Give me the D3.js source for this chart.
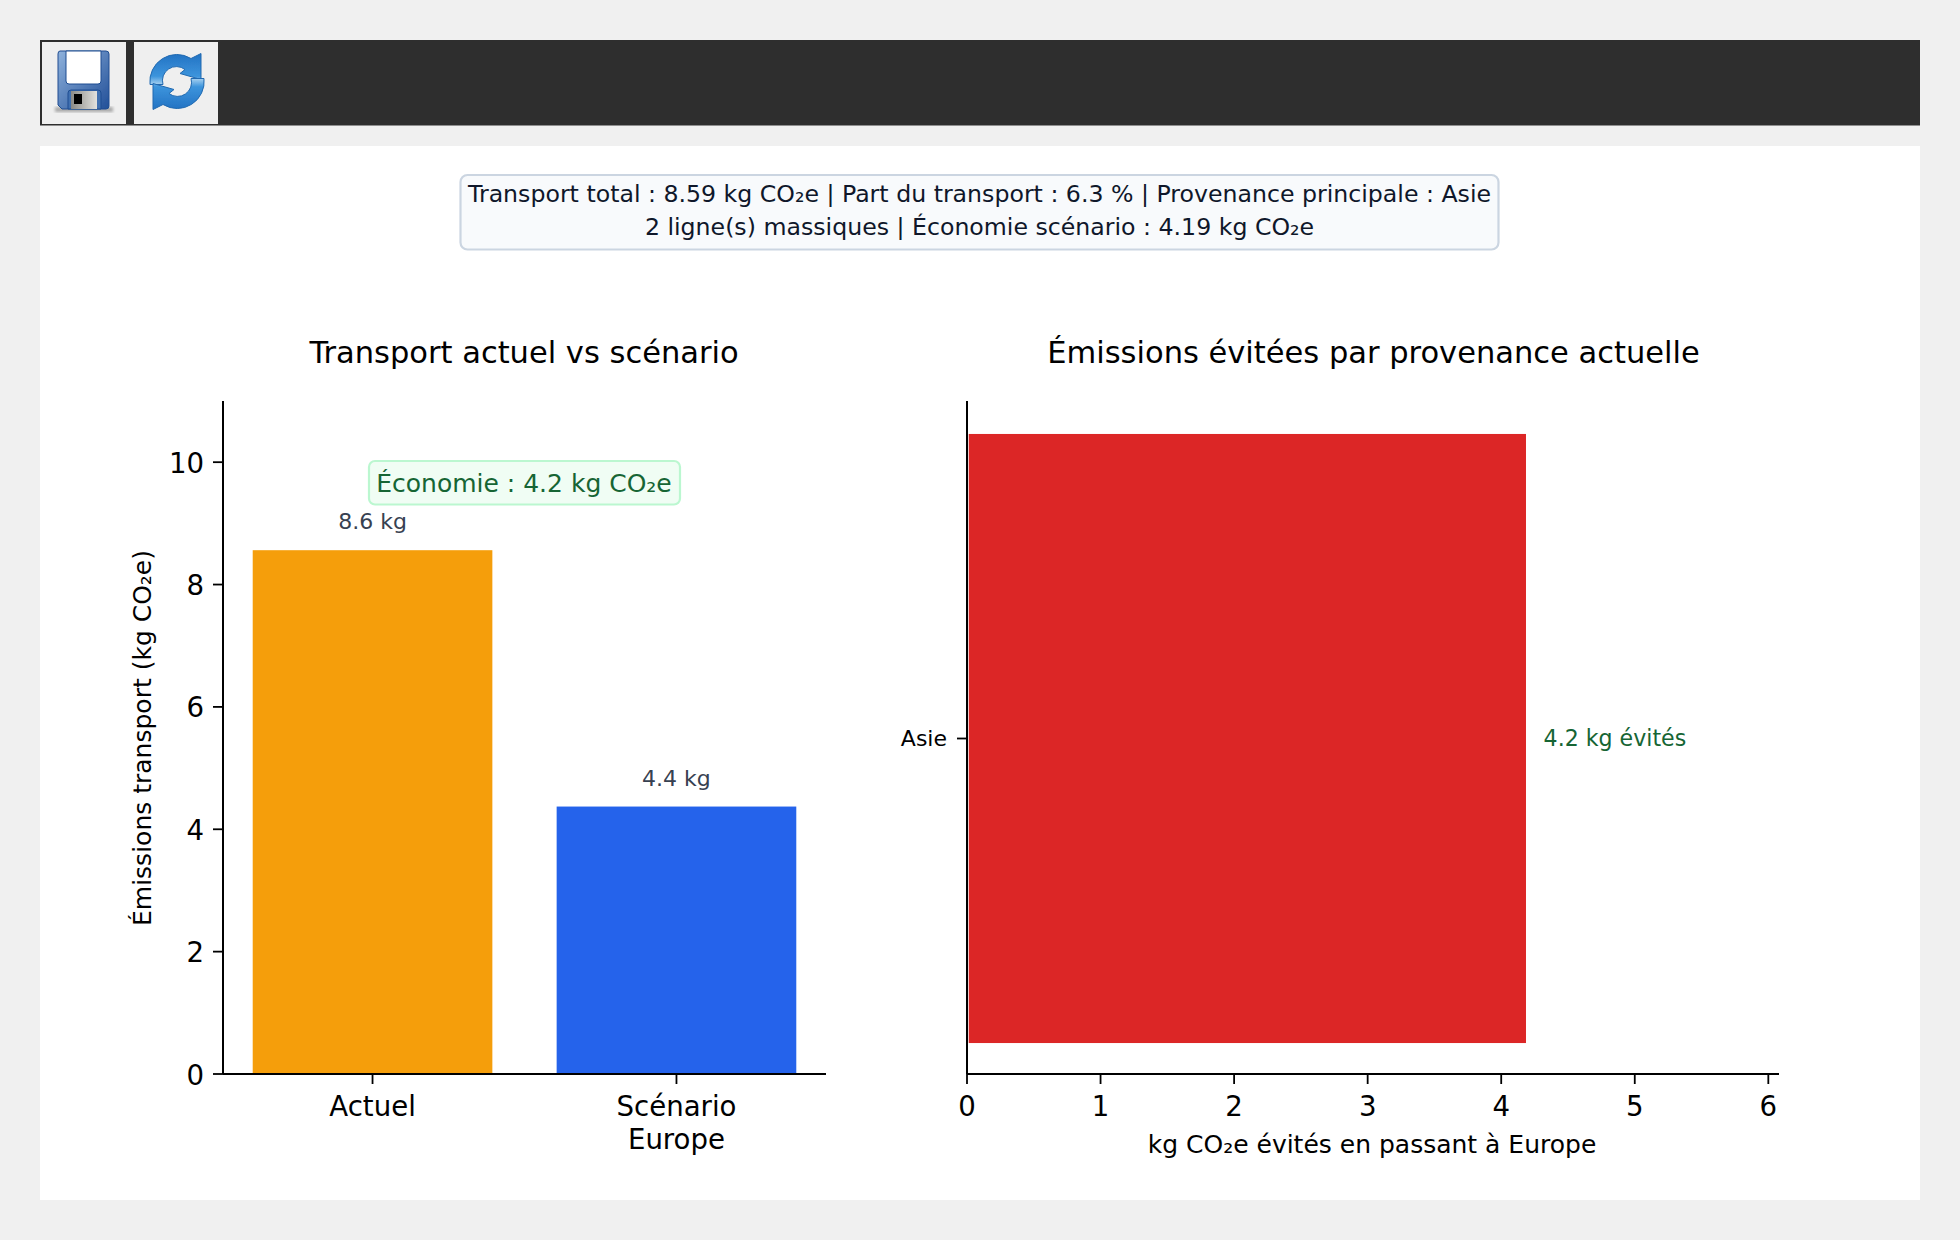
<!DOCTYPE html>
<html lang="fr">
<head>
<meta charset="utf-8">
<title>Transport actuel vs scénario</title>
<script src="https://cdn.jsdelivr.net/npm/d3@7/dist/d3.min.js"></script>
<style>
  html, body { margin: 0; padding: 0; background: #f0f0f0; }
  svg { display: block; }
  text { font-family: "DejaVu Sans", sans-serif; }
  .axis path, .axis line { stroke: #000; }
  .axis path { stroke-width: 2; }
  .axis line { stroke-width: 1.8; }
  .axis text { fill: #000; }
</style>
</head>
<body>
<svg id="page" width="1960" height="1240"></svg>
<script>
// Transport emissions, in kg CO2e
const scenarioLabels = ["Actuel", "Scénario\nEurope"];
const scenarioValues = [8.59, 4.40];
const scenarioColors = ["#f59e0b", "#2563eb"];
const valueTicks = [0, 2, 4, 6, 8, 10];

const originLabels = ["Asie"];
const originAvoided = [4.19];
const avoidedTicks = [0, 1, 2, 3, 4, 5, 6];

const summaryLines = [
  "Transport total : 8.59 kg CO₂e | Part du transport : 6.3 % | Provenance principale : Asie",
  "2 ligne(s) massiques | Économie scénario : 4.19 kg CO₂e"
];
const savingLabel = "Économie : 4.2 kg CO₂e";

const svg = d3.select("#page");
const defs = svg.append("defs");

// Page furniture: toolbar and white content panel
svg.append("rect").attr("x", 40).attr("y", 40).attr("width", 1880).attr("height", 85.5).attr("fill", "#2e2e2e");
svg.append("rect").attr("x", 40).attr("y", 146).attr("width", 1880).attr("height", 1054).attr("fill", "#fff");
svg.append("rect").attr("x", 42).attr("y", 42).attr("width", 84).attr("height", 82).attr("fill", "#efefef");
svg.append("rect").attr("x", 134).attr("y", 42).attr("width", 84).attr("height", 82).attr("fill", "#efefef");

defs.append("filter").attr("id", "soft").append("feGaussianBlur").attr("stdDeviation", 0.6);
defs.append("filter").attr("id", "shadow").append("feGaussianBlur").attr("stdDeviation", 1.5);
const diskFill = defs.append("linearGradient").attr("id", "diskFill").attr("x1", 0).attr("x2", 1).attr("y1", 0).attr("y2", 1);
diskFill.append("stop").attr("offset", "0").attr("stop-color", "#8fb2dc");
diskFill.append("stop").attr("offset", "1").attr("stop-color", "#214f98");
const slider = defs.append("linearGradient").attr("id", "slider");
slider.append("stop").attr("offset", "0").attr("stop-color", "#8a8a86");
slider.append("stop").attr("offset", "1").attr("stop-color", "#e2e2de");
const swirl = defs.append("linearGradient").attr("id", "swirl")
  .attr("gradientUnits", "userSpaceOnUse").attr("x1", 0).attr("x2", 0).attr("y1", -27).attr("y2", 4);
swirl.append("stop").attr("offset", "0").attr("stop-color", "#2474c4");
swirl.append("stop").attr("offset", "0.7").attr("stop-color", "#3c94dc");
swirl.append("stop").attr("offset", "1").attr("stop-color", "#b4d8f2");

// Floppy disk button
svg.append("rect").attr("x", 55).attr("y", 107).attr("width", 58).attr("height", 5).attr("fill", "#a9a9a9").attr("filter", "url(#shadow)");
const save = svg.append("g").attr("filter", "url(#soft)");
save.append("path").attr("d", "M60 51H106Q109 51 109 54V106Q109 109 106 109H62L58 105V54Q58 51 60 51Z")
  .attr("fill", "url(#diskFill)").attr("stroke", "#1f4d91").attr("stroke-width", 1);
save.append("path").attr("d", "M66 51H101V81Q101 84 98 84H69Q66 84 66 81Z").attr("fill", "#fff").attr("stroke", "#1f4d91").attr("stroke-width", 1);
save.append("path").attr("d", "M68 109V93Q68 90 71 90H98Q101 90 101 93V109Z").attr("fill", "#3f6fb0").attr("stroke", "#1f4d91").attr("stroke-width", 1);
save.append("rect").attr("x", 71).attr("y", 91).attr("width", 26).attr("height", 18).attr("fill", "url(#slider)");
save.append("rect").attr("x", 74).attr("y", 94).attr("width", 8).attr("height", 10).attr("fill", "#000");

// Refresh button: two chasing arrows, the second one a half turn from the first
const refresh = svg.append("g").attr("transform", "translate(177,81.5)").attr("filter", "url(#soft)");
const arrowPath = "M-27 3A27 27 0 0 1 14 -23L24 -28L24 -2L3 -8L8 -12A14 14 0 0 0 -14 3Z";
refresh.selectAll("path").data([0, 180]).join("path")
  .attr("d", arrowPath).attr("transform", d => `rotate(${d})`)
  .attr("fill", "url(#swirl)").attr("stroke", "#2069b0").attr("stroke-width", 1);

// Summary banner
svg.append("rect").attr("x", 460.5).attr("y", 175).attr("width", 1038).attr("height", 74.5).attr("rx", 7)
  .attr("fill", "#f8fafc").attr("stroke", "#cbd5e1").attr("stroke-width", 2.2);
svg.selectAll(".summary").data(summaryLines).join("text").attr("class", "summary")
  .attr("x", 979.5).attr("y", (d, i) => 202 + i * 32.5)
  .attr("text-anchor", "middle").attr("font-size", 23.65).attr("fill", "#0f172a").text(d => d);

// Bars carry a thin white edge, except along the axis they stand on
const barEdge = 1.75;

// Left panel: current transport against the scenario
const plotTop = 401, plotBottom = 1074;
const xScenario = d3.scaleBand().domain(scenarioLabels).range([223, 826]).paddingInner(0.2).paddingOuter(0.092);
const yValue = d3.scaleLinear().domain([0, 11]).range([plotBottom, plotTop]);

svg.selectAll(".scenario-bar").data(scenarioValues).join("rect").attr("class", "scenario-bar")
  .attr("x", (d, i) => xScenario(scenarioLabels[i]) + barEdge)
  .attr("y", d => yValue(d) + barEdge)
  .attr("width", xScenario.bandwidth() - 2 * barEdge)
  .attr("height", d => plotBottom - yValue(d) - barEdge)
  .attr("fill", (d, i) => scenarioColors[i]);

const leftAxis = svg.append("g").attr("class", "axis").attr("transform", "translate(223,0)")
  .call(d3.axisLeft(yValue).offset(0).tickValues(valueTicks).tickSize(10).tickSizeOuter(0).tickPadding(9));
leftAxis.selectAll("text").attr("font-size", 27.6).attr("dy", "0.38em");

const bottomAxis = svg.append("g").attr("class", "axis").attr("transform", `translate(0,${plotBottom})`)
  .call(d3.axisBottom(xScenario).offset(0).tickSize(10).tickSizeOuter(0).tickPadding(12.5));
bottomAxis.selectAll("text").each(function (d) {
  const t = d3.select(this).text("").attr("font-size", 27.6);
  d.split("\n").forEach((line, i) => {
    t.append("tspan").attr("x", 0).attr("dy", i ? 32.5 : "0.71em").text(line);
  });
});

svg.selectAll(".scenario-value").data(scenarioValues).join("text").attr("class", "scenario-value")
  .attr("x", (d, i) => xScenario(scenarioLabels[i]) + xScenario.bandwidth() / 2)
  .attr("y", d => yValue(d) - 19)
  .attr("text-anchor", "middle").attr("font-size", 22).attr("fill", "#374151")
  .text(d => `${d3.format(".1f")(d)} kg`);

svg.append("rect").attr("x", 369).attr("y", 461).attr("width", 311).attr("height", 43.5).attr("rx", 6)
  .attr("fill", "#f0fdf4").attr("stroke", "#bbf7d0").attr("stroke-width", 2.2);
svg.append("text").attr("x", 524).attr("y", 492).attr("text-anchor", "middle")
  .attr("font-size", 25).attr("fill", "#166534").text(savingLabel);

svg.append("text").attr("transform", "translate(151,738) rotate(-90)").attr("text-anchor", "middle")
  .attr("font-size", 25).attr("fill", "#000").text("Émissions transport (kg CO₂e)");
svg.append("text").attr("x", 524).attr("y", 363).attr("text-anchor", "middle")
  .attr("font-size", 30.5).attr("fill", "#000").text("Transport actuel vs scénario");

// Right panel: avoided emissions per current origin
const xAvoided = d3.scaleLinear().domain([0, 6.08]).range([967, 1779]);
const yOrigin = d3.scaleBand().domain(originLabels).range([plotBottom + 1, plotTop + 1]).padding(0.047);

svg.selectAll(".origin-bar").data(originAvoided).join("rect").attr("class", "origin-bar")
  .attr("x", xAvoided(0) + barEdge)
  .attr("y", (d, i) => yOrigin(originLabels[i]) + barEdge)
  .attr("width", d => xAvoided(d) - xAvoided(0) - barEdge - 0.6)
  .attr("height", yOrigin.bandwidth() - 2 * barEdge)
  .attr("fill", "#dc2626");

const originAxis = svg.append("g").attr("class", "axis").attr("transform", "translate(967,0)")
  .call(d3.axisLeft(yOrigin).offset(0).tickSize(10).tickSizeOuter(0).tickPadding(10));
originAxis.select(".domain").attr("d", `M0,${plotBottom}V${plotTop}`);
originAxis.selectAll("text").attr("font-size", 22);

const avoidedAxis = svg.append("g").attr("class", "axis").attr("transform", `translate(0,${plotBottom})`)
  .call(d3.axisBottom(xAvoided).offset(0).tickValues(avoidedTicks).tickSize(10).tickSizeOuter(0).tickPadding(12.5).tickFormat(d3.format("d")));
avoidedAxis.selectAll("text").attr("font-size", 27.6);

svg.selectAll(".origin-value").data(originAvoided).join("text").attr("class", "origin-value")
  .attr("x", d => xAvoided(d) + 17)
  .attr("y", (d, i) => yOrigin(originLabels[i]) + yOrigin.bandwidth() / 2)
  .attr("dy", "0.33em").attr("font-size", 22.1).attr("fill", "#166534")
  .text(d => `${d3.format(".1f")(d)} kg évités`);

svg.append("text").attr("x", 1372).attr("y", 1153).attr("text-anchor", "middle")
  .attr("font-size", 25).attr("fill", "#000").text("kg CO₂e évités en passant à Europe");
svg.append("text").attr("x", 1373.5).attr("y", 363).attr("text-anchor", "middle")
  .attr("font-size", 30.5).attr("fill", "#000").text("Émissions évitées par provenance actuelle");
</script>
</body>
</html>
